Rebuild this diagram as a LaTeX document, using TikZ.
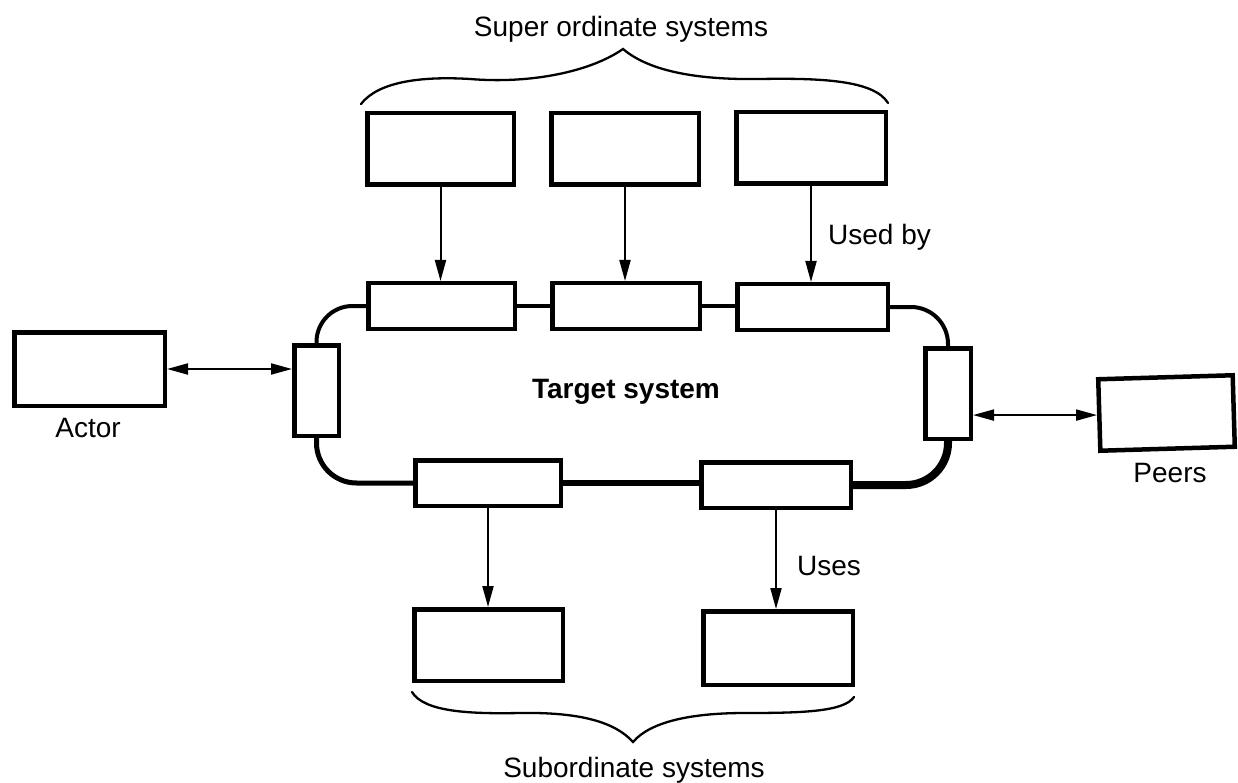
\documentclass[tikz,border=0pt]{standalone}
\usepackage{fontspec}
\setmainfont{Liberation Sans}
\usetikzlibrary{arrows.meta,backgrounds}
\begin{document}
\begin{tikzpicture}[x=1pt,y=-1pt,
  box/.style={draw=black,line width=4.5pt,fill=white,inner sep=0pt,
    minimum width=#1},
  box/.default=150pt,
  lbl/.style={font=\fontsize{28}{34}\selectfont,inner sep=0pt},
  flow/.style={line width=2pt,-{Triangle[length=21pt,width=11pt]}},
  both/.style={line width=2pt,{Triangle[length=21pt,width=11pt]}-{Triangle[length=21pt,width=11pt]}},
  ring/.style={line width=4pt,rounded corners=#1},
  ring/.default=0pt,
  brace/.style={line width=2.3pt,line cap=round}]
\useasboundingbox (0,0) rectangle (1238,783);

% super ordinate systems
\node[box=146.5pt,minimum height=71.5pt] (sup1) at (440.5,149) {};
\node[box=147.5pt,minimum height=71.5pt] (sup2) at (625,149) {};
\node[box=149.5pt,minimum height=71.5pt] (sup3) at (811,148) {};

% ports of the target system
\node[box=146.5pt,minimum height=45.5pt] (rt1) at (441.5,306) {};
\node[box=147.5pt,minimum height=45.5pt] (rt2) at (626,306) {};
\node[box=150.5pt,minimum height=45.5pt] (rt3) at (812.5,307) {};
\node[box=44.5pt,minimum height=90.5pt] (pl) at (316.5,390.5) {};
\node[box=45.5pt,minimum height=90.5pt] (pr) at (948,393.5) {};
\node[box=145.5pt,minimum height=45.5pt] (rb1) at (488,483) {};
\node[box=149.5pt,minimum height=45.5pt] (rb2) at (776,485) {};

% subordinate systems
\node[box=148.5pt,minimum height=71.5pt] (sub1) at (488.5,645) {};
\node[box=149.5pt,minimum height=73.5pt] (sub2) at (778,648) {};

% actor and peers
\node[box=150.5pt,minimum height=73.5pt] (actor) at (89.5,369) {};
\node[box=134.5pt,minimum height=71.5pt,rotate=1.7] (peers) at (1166.5,413) {};

% the target system's boundary, behind the ports
\begin{scope}[on background layer]
\draw[ring] (rt1.east) -- (rt1.east -| rt2.west);
\draw[ring] (rt2.east) -- (rt2.east -| rt3.west);
\draw[ring=36pt] (rt1.west) -- (pl.north |- rt1.west) -- (pl.north);
\draw[ring=37pt] (rt3.east) -- (pr.north |- rt3.east) -- (pr.north);
\draw[ring=40pt,line width=5pt] (pl.south) -- (pl.south |- rb1.west) -- (rb1.west);
\draw[line width=6.5pt] (rb1.east) -- (rb1.east -| rb2.west);
\draw[ring=42pt,line width=8pt] (rb2.east) -- (pr.south |- rb2.east) -- (pr.south);
\end{scope}

% relations
\draw[flow] (sup1.south) -- (sup1.south |- rt1.north);
\draw[flow] (sup2.south) -- (sup2.south |- rt2.north);
\draw[flow] (sup3.south) -- (sup3.south |- rt3.north);
\draw[flow] (rb1.south) -- (rb1.south |- sub1.north);
\draw[flow] (rb2.south) -- (rb2.south |- sub2.north);
\draw[both] (actor.east) -- (actor.east -| pl.west);
\draw[both] (pr.east |- peers.west) -- (peers.west);

% braces
\draw[brace] (361,104) .. controls (378,82) and (420,76) .. (470,79)
  .. controls (530,84) and (590,72) .. (623,49)
  .. controls (650,72) and (700,80) .. (760,79)
  .. controls (820,78) and (874,80) .. (888,103);
\draw[brace] (412,692) .. controls (424,712) and (470,714) .. (520,713)
  .. controls (580,712) and (615,722) .. (633,742)
  .. controls (650,722) and (690,713) .. (745,713)
  .. controls (800,713) and (844,712) .. (854,697);

% labels
\node[lbl,anchor=base] (tsup) at (621,37) {Super ordinate systems};
\node[lbl,anchor=base] (tsub) at (634,777) {Subordinate systems};
\node[lbl,anchor=base,font=\fontsize{28}{34}\selectfont\bfseries] (ttarget) at (626,398) {Target system};
\node[lbl,anchor=base west] (tusedby) at (828,245) {Used by};
\node[lbl,anchor=base west] (tuses) at (797,575) {Uses};
\node[lbl,anchor=base] (tactor) at (88,437) {Actor};
\node[lbl,anchor=base] (tpeers) at (1170,482) {Peers};
\end{tikzpicture}
\end{document}
